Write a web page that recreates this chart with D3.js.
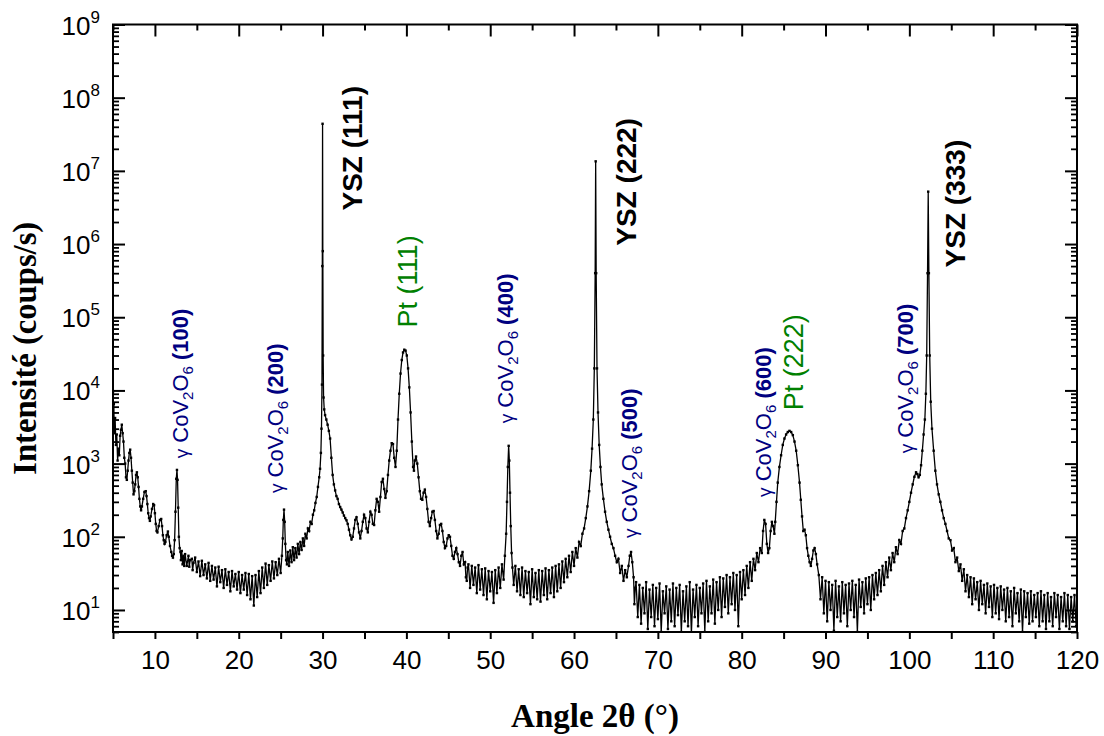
<!DOCTYPE html>
<html><head><meta charset="utf-8">
<script src="https://cdn.jsdelivr.net/npm/d3@7"></script>
<style>body{margin:0;background:#fff}</style>
</head><body><svg id="c" width="1104" height="736"></svg>
<script>
// ---- scan data: [2theta (deg), intensity (counts/s)] ----
const scanA = [[5.0,9500],[5.05,3500],[5.1,6500],[5.15,2600],[5.25,4200],[5.35,1800],[5.45,2500],[5.55,1100],[5.65,1600],[5.75,1300],[5.85,2400],[5.95,2900],[6.05,3400],[6.15,2600],[6.25,2000],[6.35,1200],[6.45,1000],[6.55,650],[6.65,600],[6.75,800],[6.85,1100],[6.95,1400],[7.05,1550],[7.15,1200],[7.25,800],[7.35,550],[7.45,380],[7.55,420],[7.65,520],[7.75,700],[7.85,760],[7.95,650],[8.05,480],[8.15,330],[8.25,260],[8.35,230],[8.45,260],[8.6,330],[8.75,410],[8.9,420],[9.0,360],[9.1,280],[9.2,210],[9.3,180],[9.4,165],[9.5,190],[9.65,240],[9.8,280],[9.9,270],[10.0,210],[10.1,150],[10.2,120],[10.3,115],[10.45,140],[10.6,170],[10.75,175],[10.85,140],[10.95,105],[11.05,90],[11.15,80],[11.25,85],[11.4,105],[11.55,118],[11.65,100],[11.8,75],[11.95,62],[12.05,55],[12.15,52],[12.25,58],[12.35,90],[12.45,220],[12.55,620],[12.63,820],[12.7,600],[12.78,250],[12.86,100],[12.95,70],[13.05,62]];
const scanB = [[13.1,48],[13.2,64],[13.3,42],[13.4,55],[13.5,40],[13.6,58],[13.8,40],[14.0,55],[14.1,39],[14.2,48],[14.4,50],[14.5,35],[14.6,44],[14.8,52],[15.0,33],[15.2,46],[15.4,29],[15.6,47],[15.8,30],[16.0,42],[16.2,27],[16.4,44],[16.6,25],[16.8,40],[17.0,26],[17.2,38],[17.4,21],[17.6,39],[17.8,24],[18.0,35],[18.2,20],[18.4,36],[18.6,22],[18.8,33],[19.0,18],[19.2,34],[19.4,21],[19.6,31],[19.8,19],[20.0,33],[20.2,17],[20.4,30],[20.6,19],[20.8,32],[21.0,16],[21.2,31],[21.4,14],[21.6,29],[21.8,11.5],[22.0,30],[22.2,15],[22.4,34],[22.6,17],[22.8,38],[23.0,20],[23.2,43],[23.4,22],[23.6,41],[23.8,25],[24.0,46],[24.2,27],[24.4,45],[24.6,30],[24.8,50],[25.0,32]];
const scanC = [[25.15,55],[25.25,95],[25.32,170],[25.4,235],[25.48,160],[25.56,80],[25.65,48],[25.75,42],[25.85,62],[26.0,40],[26.15,65],[26.3,45],[26.45,72],[26.6,48],[26.75,70],[26.9,52],[27.05,80],[27.2,58],[27.35,85],[27.5,66],[27.65,95],[27.8,75],[27.95,110],[28.1,95],[28.25,130],[28.4,120],[28.55,160],[28.7,150],[28.85,200],[29.0,230],[29.15,290],[29.3,350],[29.45,480],[29.6,650],[29.7,850],[29.8,1400],[29.87,3000],[29.93,12000],[29.97,500000],[30.0,44000000],[30.03,800000],[30.07,30000],[30.12,8000],[30.2,5500],[30.3,4600],[30.45,4000],[30.6,3400],[30.75,2800],[30.9,2200],[31.05,1200],[31.2,700],[31.35,520],[31.5,430],[31.65,360],[31.8,330],[31.95,280],[32.1,255],[32.25,235],[32.4,215],[32.55,195],[32.7,180],[32.85,168],[33.0,150],[33.15,125],[33.3,105],[33.45,92],[33.6,100],[33.75,130],[33.9,170],[34.05,185],[34.2,150],[34.35,115],[34.5,95],[34.65,120],[34.8,160],[34.95,200],[35.1,180],[35.25,130],[35.4,115],[35.55,160],[35.7,220],[35.85,200],[36.0,150],[36.15,145],[36.3,230],[36.45,330],[36.6,300],[36.75,220],[36.9,350],[37.05,560],[37.2,620],[37.35,450],[37.5,340],[37.65,420],[37.8,700],[37.95,1100],[38.1,1500],[38.25,1900],[38.4,1850],[38.55,1200],[38.7,900],[38.85,1500],[39.0,4000],[39.15,9000],[39.3,17000],[39.45,26000],[39.6,33000],[39.75,36000],[39.9,35000],[40.05,30000],[40.2,20000],[40.35,11000],[40.5,5000],[40.65,2000],[40.8,900],[40.9,800],[41.0,1100],[41.15,1250],[41.3,1000],[41.45,650],[41.6,420],[41.75,330],[41.9,320],[42.05,400],[42.2,440],[42.35,350],[42.5,240],[42.65,160],[42.8,140],[42.95,180],[43.1,220],[43.25,225],[43.4,170],[43.55,120],[43.7,95],[43.85,110],[44.0,145],[44.15,150],[44.3,120],[44.45,85],[44.6,70],[44.75,75],[44.9,95],[45.05,105],[45.2,100],[45.35,75],[45.5,55],[45.65,50],[45.8,62],[45.95,70],[46.1,58],[46.25,45],[46.4,40],[46.55,55],[46.7,62],[46.85,42]];
const scanD = [[47.0,45],[47.1,28],[47.2,25],[47.3,38],[47.4,42],[47.6,20],[47.8,40],[48.0,22],[48.2,38],[48.4,17],[48.6,41],[48.8,19],[49.0,36],[49.2,16],[49.4,37],[49.6,14],[49.8,34],[50.0,18],[50.2,33],[50.4,12.5],[50.6,35],[50.8,17],[51.0,38],[51.2,20],[51.4,42],[51.6,26],[51.75,55],[51.9,110],[52.0,300],[52.1,900],[52.2,1750],[52.28,1100],[52.36,400],[52.45,140],[52.55,60],[52.65,38],[52.8,22],[53.0,40],[53.2,18],[53.4,36],[53.6,16],[53.8,38],[54.0,15],[54.2,34],[54.4,17],[54.6,33],[54.8,12],[55.0,36],[55.2,15],[55.4,32],[55.6,14],[55.8,35],[56.0,13],[56.2,34],[56.4,16],[56.6,37],[56.8,14],[57.0,35],[57.2,17],[57.4,38],[57.6,15],[57.8,40],[58.0,18],[58.2,42],[58.4,20],[58.6,46],[58.8,24],[59.0,50],[59.2,28],[59.4,55],[59.6,33],[59.8,62],[60.0,40],[60.2,70],[60.4,52],[60.6,85],[60.8,75]];
const scanE = [[61.0,110],[61.2,130],[61.4,180],[61.6,260],[61.8,420],[62.0,800],[62.15,1600],[62.3,4000],[62.42,20000],[62.52,400000],[62.58,13500000],[62.64,400000],[62.74,20000],[62.86,5000],[63.0,1800],[63.15,900],[63.3,520],[63.5,330],[63.7,220],[63.9,160],[64.1,125],[64.3,100],[64.5,80],[64.7,70],[64.9,55],[65.1,45],[65.3,50],[65.5,32],[65.7,40],[65.9,25],[66.1,35],[66.3,28],[66.5,40],[66.65,55],[66.8,62],[66.95,45],[67.1,28]];
const scanF = [[67.2,12],[67.3,20],[67.4,24],[67.6,8],[67.8,22],[68.0,6.5],[68.2,20],[68.4,9],[68.6,24],[68.8,5.5],[69.0,19],[69.2,8],[69.4,22],[69.6,6],[69.8,20],[70.0,7.5],[70.2,23],[70.4,5],[70.6,18],[70.8,9],[71.0,21],[71.2,5.5],[71.4,19],[71.6,7],[71.8,23],[72.0,6],[72.2,20],[72.4,8.5],[72.6,22],[72.8,5],[73.0,18],[73.2,7],[73.4,21],[73.6,6],[73.8,24],[74.0,4.8],[74.2,19],[74.4,8],[74.6,22],[74.8,6],[75.0,20],[75.2,9],[75.4,23],[75.6,5],[75.8,25],[76.0,7],[76.2,21],[76.4,9],[76.6,26],[76.8,6.5],[77.0,24],[77.2,10],[77.4,28],[77.6,8],[77.8,27],[78.0,11],[78.2,30],[78.4,9],[78.6,28],[78.8,12],[79.0,32],[79.2,10],[79.4,30],[79.6,6],[79.8,33],[80.0,14],[80.2,35],[80.4,16],[80.6,40],[80.8,20],[81.0,45],[81.2,25],[81.4,50],[81.6,35],[81.8,60],[82.0,45],[82.2,70],[82.4,60],[82.55,120],[82.7,170],[82.85,150],[83.0,80],[83.15,60],[83.3,70],[83.45,120],[83.6,160],[83.75,140],[83.9,110]];
const scanG = [[84.0,160],[84.15,300],[84.3,550],[84.5,900],[84.7,1300],[84.9,1800],[85.1,2200],[85.3,2500],[85.5,2700],[85.7,2800],[85.9,2700],[86.1,2450],[86.3,2000],[86.5,1500],[86.7,950],[86.9,550],[87.05,320],[87.2,190],[87.35,120],[87.5,125],[87.65,105],[87.8,70],[87.95,55],[88.1,45],[88.25,40],[88.4,50],[88.55,65],[88.7,70],[88.85,58],[89.0,42],[89.2,30],[89.4,14],[89.6,28],[89.8,9],[90.0,25],[90.2,7],[90.4,24],[90.6,10],[90.8,22],[91.0,5.2],[91.2,25],[91.4,8],[91.6,21],[91.8,7],[92.0,24],[92.2,9],[92.4,22],[92.6,6],[92.8,23],[93.0,10],[93.2,25],[93.4,8],[93.6,22],[93.8,5],[94.0,26],[94.2,11],[94.4,24],[94.6,9],[94.8,27],[95.0,12],[95.2,28],[95.4,10],[95.6,30],[95.8,14],[96.0,32],[96.2,16],[96.4,35],[96.6,18],[96.8,40],[97.0,22],[97.2,45],[97.4,28],[97.6,52],[97.8,35],[98.0,60],[98.2,45],[98.4,72],[98.6,58],[98.8,90],[99.0,80],[99.2,120],[99.4,130],[99.6,180],[99.8,230]];
const scanH = [[100.0,300],[100.2,400],[100.4,520],[100.6,660],[100.8,760],[100.95,720],[101.1,650],[101.25,700],[101.4,950],[101.55,1500],[101.7,2500],[101.85,4000],[101.97,9000],[102.07,30000],[102.17,400000],[102.25,5200000],[102.33,400000],[102.43,30000],[102.55,7000],[102.7,3000],[102.9,1500],[103.1,800],[103.3,520],[103.5,380],[103.7,300],[103.9,230],[104.1,180],[104.3,150],[104.5,120],[104.7,95],[104.9,90],[105.1,65],[105.3,70],[105.5,45],[105.7,52],[105.9,34],[106.1,42],[106.3,25],[106.5,36],[106.7,18],[106.9,30],[107.1,15],[107.3,28],[107.5,12],[107.7,27],[107.9,14],[108.1,24],[108.3,10],[108.5,25],[108.7,12],[108.9,22],[109.1,9],[109.3,23],[109.5,11],[109.7,21],[109.9,8],[110.1,22],[110.3,9],[110.5,20],[110.7,7.5],[110.9,21],[111.1,10],[111.3,19],[111.5,7],[111.7,20],[111.9,8],[112.1,18],[112.3,6],[112.5,20],[112.7,9],[112.9,17],[113.1,7],[113.3,19],[113.5,5],[113.7,18],[113.9,8],[114.1,17],[114.3,6.5],[114.5,18],[114.7,7],[114.9,16],[115.1,8],[115.3,17],[115.5,6],[115.7,18],[115.9,7],[116.1,16],[116.3,5.5],[116.5,17],[116.7,7],[116.9,15],[117.1,6],[117.3,17],[117.5,8],[117.7,16],[117.9,5.5],[118.1,15],[118.3,7],[118.5,17],[118.7,6],[118.9,16],[119.1,5.5],[119.3,15],[119.5,7],[119.7,16],[119.9,6],[120.0,15]];

// ---- axis ticks ----
const xTickValues = [10,20,30,40,50,60,70,80,90,100,110,120];
const xMinorValues = [5,15,25,35,45,55,65,75,85,95,105,115];
const yTickExponents = [1,2,3,4,5,6,7,8,9];

// ---- peak labels ----
const labelPhase = ["cov","cov","ysz","pt","cov","cov","ysz","cov","pt","cov","ysz"];
const labelHkl = ["(100)","(200)","(111)","(111)","(400)","(500)","(222)","(600)","(222)","(700)","(333)"];
const labelAngle = [13.95,25.28,34.7,41.26,52.7,67.5,67.4,83.5,87.3,100.4,106.6];
const labelCounts = [1180,395,2.87e6,72600,3560,96,9.5e5,350,5350,1380,4.8e5];

const svg = d3.select("#c");
const x = d3.scaleLinear().domain([5,120]).range([113,1077]);
const y = d3.scaleLog().domain([5,1e9]).range([632,24.5]);
const X0 = x.range()[0], X1 = x.range()[1], Y0 = y.range()[0], Y1 = y.range()[1];

const scan = [].concat(scanA, scanB, scanC, scanD, scanE, scanF, scanG, scanH);

svg.append("clipPath").attr("id","clip").append("rect")
  .attr("x",X0).attr("y",Y1).attr("width",X1-X0).attr("height",Y0-Y1);

const plot = svg.append("g").attr("clip-path","url(#clip)");
const line = d3.line().x(d=>x(d[0])).y(d=>y(Math.max(d[1],4)));
plot.append("path").datum(scan).attr("d",line)
  .attr("fill","none").attr("stroke","#000").attr("stroke-width",1.3);
plot.selectAll("rect").data(scan).join("rect")
  .attr("x",d=>x(d[0])-1.2).attr("y",d=>y(Math.max(d[1],4))-1.2).attr("width",2.4).attr("height",2.4).attr("fill","#000");

// ---- frame & ticks ----
const axisColor = "#000";
const fontSans = "'Liberation Sans', Arial, Helvetica, sans-serif";
const fontSerif = "'Liberation Serif', 'Times New Roman', serif";

svg.append("rect").attr("x",X0).attr("y",Y1).attr("width",X1-X0).attr("height",Y0-Y1)
  .attr("fill","none").attr("stroke",axisColor).attr("stroke-width",2);

const gx = svg.append("g").attr("transform",`translate(0,${Y0})`)
  .call(d3.axisBottom(x).tickValues(xTickValues).tickSize(7).tickPadding(12).tickFormat(d3.format("d")));
gx.select(".domain").remove();
gx.selectAll("line").attr("stroke-width",2);
gx.selectAll("text").attr("font-family",fontSans).attr("font-size",26).attr("fill","#000");
const gxm = svg.append("g").attr("transform",`translate(0,${Y0})`)
  .call(d3.axisBottom(x).tickValues(xMinorValues).tickSize(7).tickFormat(""));
gxm.select(".domain").remove();
gxm.selectAll("line").attr("stroke-width",2);

// top axis (inward)
const gt = svg.append("g").attr("transform",`translate(0,${Y1})`)
  .call(d3.axisTop(x).tickValues(xTickValues).tickSize(-12).tickFormat(""));
gt.select(".domain").remove(); gt.selectAll("line").attr("stroke-width",2);
const gtm = svg.append("g").attr("transform",`translate(0,${Y1})`)
  .call(d3.axisTop(x).tickValues(xMinorValues).tickSize(-6).tickFormat(""));
gtm.select(".domain").remove(); gtm.selectAll("line").attr("stroke-width",2);

// log ticks
const majorY = yTickExponents.map(e=>Math.pow(10,e));
const minorY = [];
for (let e=0;e<9;e++) for (let k=2;k<=9;k++){ const v=k*Math.pow(10,e); if (v>=5 && v<=1e9) minorY.push(v); }

[[d3.axisLeft, X0],[d3.axisRight, X1]].forEach(([ax,pos])=>{
  const g1 = svg.append("g").attr("transform",`translate(${pos},0)`)
    .call(ax(y).tickValues(majorY).tickSize(-12).tickFormat(""));
  g1.select(".domain").remove(); g1.selectAll("line").attr("stroke-width",2);
  const g2 = svg.append("g").attr("transform",`translate(${pos},0)`)
    .call(ax(y).tickValues(minorY).tickSize(-6).tickFormat(""));
  g2.select(".domain").remove(); g2.selectAll("line").attr("stroke-width",1.8);
});

// y tick labels 10^n
yTickExponents.forEach(e=>{
  const t = svg.append("text").attr("x",X0-13).attr("y",y(Math.pow(10,e))+10)
    .attr("text-anchor","end").attr("font-family",fontSans).attr("font-size",26).attr("fill","#000");
  t.append("tspan").text("10");
  t.append("tspan").attr("font-size",17).attr("dy",-12).text(e);
});

// axis titles
svg.append("text").attr("x",(X0+X1)/2).attr("y",727).attr("text-anchor","middle")
  .attr("font-family",fontSerif).attr("font-weight","bold").attr("font-size",33).attr("fill","#000")
  .text("Angle 2θ (°)");
svg.append("text").attr("transform",`translate(36,${(Y0+Y1)/2+20}) rotate(-90)`).attr("text-anchor","middle")
  .attr("font-family",fontSerif).attr("font-weight","bold").attr("font-size",33).attr("fill","#000")
  .attr("textLength",253).attr("lengthAdjust","spacingAndGlyphs")
  .text("Intensité (coups/s)");

// peak labels
const navy = "#000080", green = "#008000";
labelPhase.forEach((p,i)=>{
  const t = svg.append("text")
    .attr("transform",`translate(${x(labelAngle[i])},${y(labelCounts[i])}) rotate(-90)`)
    .attr("font-family",fontSans);
  if (p==="cov"){
    t.attr("fill",navy).attr("font-size",22);
    t.append("tspan").attr("font-size",19).text("γ");
    t.append("tspan").text(" CoV");
    t.append("tspan").attr("font-size",15).attr("dy",5).text("2");
    t.append("tspan").attr("dy",-5).text("O");
    t.append("tspan").attr("font-size",15).attr("dy",5).text("6");
    t.append("tspan").attr("dy",-5).attr("font-weight","bold").text(" " + labelHkl[i]);
  } else if (p==="ysz"){
    t.attr("fill","#000").attr("font-size",28).attr("font-weight","bold").text("YSZ " + labelHkl[i]);
  } else {
    t.attr("fill",green).attr("font-size",27).text("Pt " + labelHkl[i]);
  }
});
</script></body></html>
